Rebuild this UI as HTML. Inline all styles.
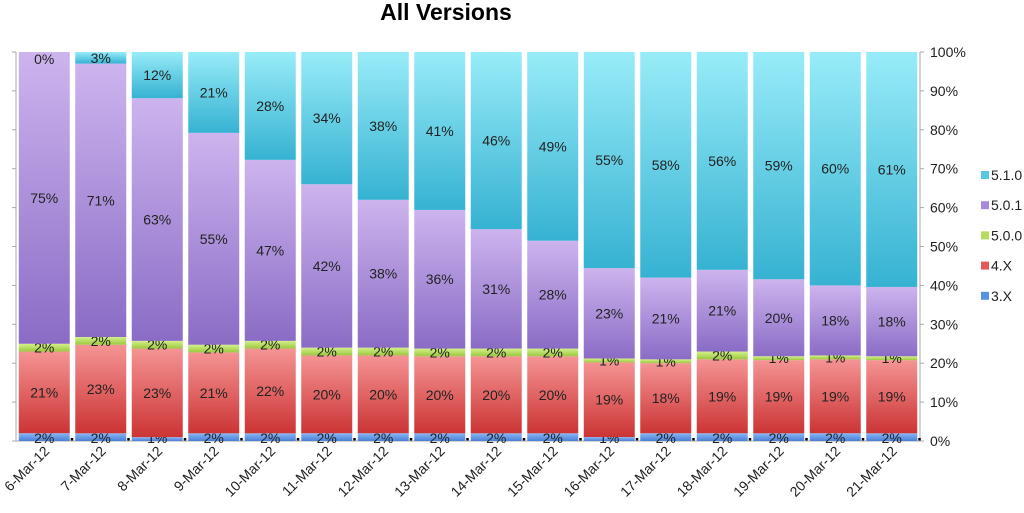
<!DOCTYPE html>
<html><head><meta charset="utf-8">
<style>
html,body{margin:0;padding:0;background:#fff;}
svg{display:block;font-family:"Liberation Sans",Arial,sans-serif;}
</style></head>
<body>
<svg id="chart" width="1024" height="513" viewBox="0 0 1024 513">
<defs>
<linearGradient id="g510" x1="0" y1="0" x2="0" y2="1"><stop offset="0" stop-color="#98ecf8"/><stop offset="1" stop-color="#36b2d2"/></linearGradient>
<linearGradient id="g501" x1="0" y1="0" x2="0" y2="1"><stop offset="0" stop-color="#cdb4ee"/><stop offset="1" stop-color="#8a6cc6"/></linearGradient>
<linearGradient id="g500" x1="0" y1="0" x2="0" y2="1"><stop offset="0" stop-color="#d4f08a"/><stop offset="1" stop-color="#9cc840"/></linearGradient>
<linearGradient id="g4x" x1="0" y1="0" x2="0" y2="1"><stop offset="0" stop-color="#f59494"/><stop offset="1" stop-color="#cc3434"/></linearGradient>
<linearGradient id="g3x" x1="0" y1="0" x2="0" y2="1"><stop offset="0" stop-color="#8ab6f4"/><stop offset="1" stop-color="#4a7fd6"/></linearGradient>
</defs>
<text x="446" y="20" text-anchor="middle" font-size="23" font-weight="bold" fill="#000">All Versions</text>
<g id="axes"></g>
<g id="bars"></g>
<g id="legend"></g>
</svg>
<script>
const categories = ["6-Mar-12","7-Mar-12","8-Mar-12","9-Mar-12","10-Mar-12","11-Mar-12","12-Mar-12","13-Mar-12","14-Mar-12","15-Mar-12","16-Mar-12","17-Mar-12","18-Mar-12","19-Mar-12","20-Mar-12","21-Mar-12"];
const s3x  = [2,2,1,2,2,2,2,2,2,2,1,2,2,2,2,2];
const s4x  = [21,23,23,21,22,20,20,20,20,20,19,18,19,19,19,19];
const s500 = [2,2,2,2,2,2,2,2,2,2,1,1,2,1,1,1];
const s501 = [75,71,63,55,47,42,38,36,31,28,23,21,21,20,18,18];
const s510 = [0,3,12,21,28,34,38,41,46,49,55,58,56,59,60,61];
const seriesNames = ["3.X","4.X","5.0.0","5.0.1","5.1.0"];
const yTicks = [0,10,20,30,40,50,60,70,80,90,100];

const NS="http://www.w3.org/2000/svg";
const X0=16, X1=920, Y0=441, Y1=52;
const pitch=(X1-X0)/categories.length, barW=51;
const yS=v=>Y0-(v/100)*(Y0-Y1);
const xC=i=>X0+pitch*(i+0.5);
function mk(tag,attrs,parent){const e=document.createElementNS(NS,tag);for(const k in attrs)e.setAttribute(k,attrs[k]);parent.appendChild(e);return e;}
const axes=document.getElementById('axes'), bars=document.getElementById('bars'), legend=document.getElementById('legend');
const series=[s3x,s4x,s500,s501,s510];
const fills=["url(#g3x)","url(#g4x)","url(#g500)","url(#g501)","url(#g510)"];
const swatch=["#5a90e0","#e05a5a","#b4dc60","#a88ad8","#5ac8e2"];

// axes
const la=mk('line',{x1:X0,x2:X0,y1:Y1,y2:Y0,stroke:'#aaa','stroke-width':1},axes);

const ra=mk('line',{x1:X1,x2:X1,y1:Y1,y2:Y0,stroke:'#aaa','stroke-width':1},axes);

const ba=mk('line',{x1:X0,x2:X1,y1:Y0,y2:Y0,stroke:'#aaa','stroke-width':1},axes);

yTicks.forEach(t=>{
  const y=yS(t);
  mk('line',{x1:X0-4,x2:X0,y1:y,y2:y,stroke:'#aaa'},axes);
  mk('line',{x1:X1,x2:X1+4,y1:y,y2:y,stroke:'#aaa'},axes);
  const tl=mk('text',{x:930,y:y+5,'font-size':14,fill:'#222'},axes);
  tl.textContent=t+'%';
  
  
});

categories.forEach((c,i)=>{
  const tot=series.reduce((a,s)=>a+s[i],0);
  let acc=0;
  const cx=xC(i), bx=cx-barW/2;
  series.forEach((s,k)=>{
    const v=s[i]/tot*100;
    const yt=yS(acc+v), yb=yS(acc);
    const r=mk('rect',{x:bx,y:yt,width:barW,height:Math.max(0,yb-yt),fill:fills[k]},bars);
    
    
    let ly=(yt+yb)/2+5;
    if(k===0) ly=Y0+2;
    if(k===4 && s[i]===0) ly=Y1+12;
    const tl=mk('text',{x:cx,y:ly,'text-anchor':'middle','font-size':14,fill:'#222'},bars);
    tl.textContent=s[i]+'%';
    
    
    acc+=v;
  });
  const dot=mk('rect',{x:bx+barW+1,y:Y0-3,width:2.5,height:2.5,fill:'#000'},bars);
  
  
  const xl=mk('text',{x:cx+6,y:452,'text-anchor':'end','font-size':14,fill:'#222',transform:`rotate(-45 ${cx+6} 452)`},axes);
  xl.textContent=c;
  
  
});

// legend (top to bottom: 5.1.0 .. 3.X)
for(let k=4;k>=0;k--){
  const y=175+(4-k)*30.2;
  const g=mk('g',{},legend);
  
  
  mk('rect',{x:981,y:y-4,width:8,height:8,fill:swatch[k]},g);
  const t=mk('text',{x:991,y:y+5,'font-size':14,fill:'#222'},g);
  t.textContent=seriesNames[k];
}
</script>
</body></html>
